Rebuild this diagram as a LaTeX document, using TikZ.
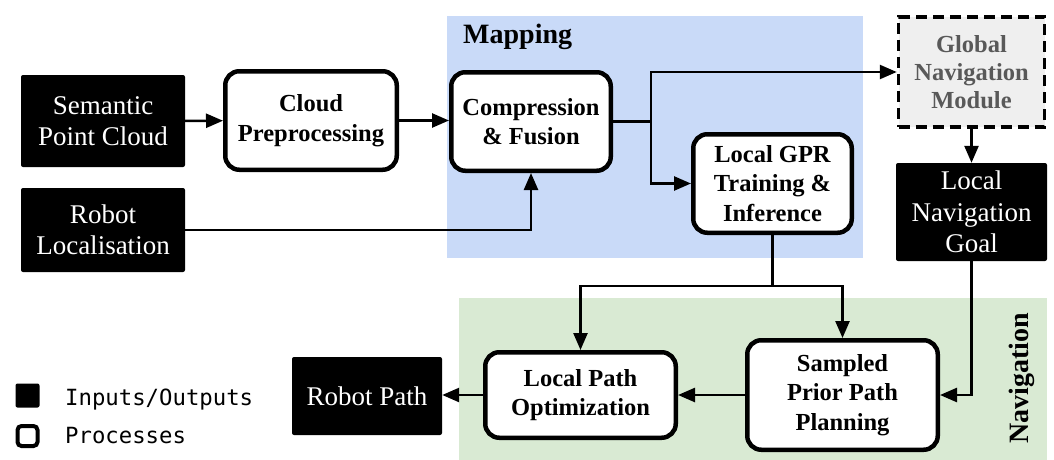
\documentclass[tikz,border=0pt]{standalone}
\usepackage{fontspec}
\setmainfont{Liberation Serif}
\newfontfamily\legendfont{DejaVu Sans Mono}
\usetikzlibrary{arrows.meta}
\definecolor{mapblue}{HTML}{C9DAF8}
\definecolor{navgreen}{HTML}{D9EAD3}
\definecolor{gnmgray}{HTML}{EFEFEF}
\definecolor{gnmtext}{HTML}{595959}
\begin{document}
\begin{tikzpicture}[x=1pt,y=-1pt,
  iobox/.style={fill=black, text=white, rounded corners=2pt, inner sep=0pt, align=center,
    font=\fontsize{27}{31.5}\selectfont},
  procbox/.style={draw=black, fill=white, line width=4.5pt, rounded corners=14pt, inner sep=0pt,
    align=center, font=\bfseries\fontsize{24.5}{29.5}\selectfont},
  gnmbox/.style={draw=black, fill=gnmgray, line width=3.5pt, dash pattern=on 11pt off 6pt,
    inner sep=0pt, align=center, text=gnmtext, font=\bfseries\fontsize{24.5}{28}\selectfont},
  region/.style={draw=none, inner sep=0pt},
  regionlabel/.style={inner sep=0pt, font=\bfseries\fontsize{28}{32}\selectfont},
  legendtext/.style={inner sep=0pt, anchor=base west, font=\legendfont\fontsize{22.3}{26}\selectfont},
  wire/.style={line width=2.5pt},
  conn/.style={line width=2.5pt, -{Triangle[length=17pt,width=14pt]}}
]
\useasboundingbox (0,0) rectangle (1054,460);

% regions
\node[region, fill=mapblue, minimum width=416pt, minimum height=242pt] (mapreg) at (655,137) {};
\node[region, fill=navgreen, minimum width=588pt, minimum height=162pt] (navreg) at (753,379) {};
\node[regionlabel, anchor=base west] (maplabel) at (463,44) {Mapping};
\node[regionlabel, rotate=90] (navlabel) at (1022,378) {Navigation};

% inputs / outputs
\node[iobox, minimum width=164pt, minimum height=92pt] (spc) at (103,121) {Semantic\\Point Cloud};
\node[iobox, minimum width=164pt, minimum height=84pt] (rl) at (103,230) {Robot\\Localisation};
\node[iobox, minimum width=151pt, minimum height=98pt] (lng) at (971.5,212) {Local\\Navigation\\Goal};
\node[iobox, minimum width=150pt, minimum height=78pt] (rp) at (367,396) {Robot Path};

% processes
\node[procbox, minimum width=171.5pt, minimum height=98.5pt] (cp) at (311,120.5) {Cloud\\Preprocessing};
\node[procbox, minimum width=159.5pt, minimum height=98.5pt] (cf) at (531,121.5) {Compression\\\& Fusion};
\node[procbox, minimum width=158.5pt, minimum height=98.5pt] (gpr) at (772.5,183.5) {Local GPR\\Training \&\\Inference};
\node[procbox, minimum width=190.5pt, minimum height=109.5pt] (sppp) at (842.5,395) {Sampled\\Prior Path\\Planning};
\node[procbox, minimum width=190.5pt, minimum height=85.5pt] (lpo) at (580.5,395) {Local Path\\Optimization};
\node[gnmbox, minimum width=146pt, minimum height=110pt] (gnm) at (971.5,72) {Global\\Navigation\\Module};

% connectors
\coordinate (j1) at (651,121.5);
\coordinate (j2) at (772.5,286);
\draw[conn] (spc) -- (cp);
\draw[conn] (cp.east) -- (cp.east -| cf.west);
\draw[conn] (rl.east) -| (cf.south);
\draw[wire] (cf.east) -- (j1);
\draw[conn] (j1) |- (gnm.west);
\draw[conn] (j1) |- (gpr.west);
\draw[conn] (gnm.south) -- (lng.north);
\draw[wire] (gpr.south) -- (j2);
\draw[conn] (j2) -| (lpo.north);
\draw[conn] (j2) -| (sppp.north);
\draw[conn] (lng.south) |- (sppp.east);
\draw[conn] (sppp.west) -- (lpo.east);
\draw[conn] (lpo.west) -- (lpo.west -| rp.east);

% legend
\node[fill=black, rounded corners=2pt, minimum size=24pt, inner sep=0pt] (legio) at (27.5,395.5) {};
\node[draw=black, fill=white, line width=4pt, rounded corners=4pt, minimum size=20pt, inner sep=0pt] (legproc) at (27.5,436) {};
\node[legendtext] (legiot) at (65,405) {Inputs/Outputs};
\node[legendtext] (legproct) at (65,443.5) {Processes};
\end{tikzpicture}
\end{document}
